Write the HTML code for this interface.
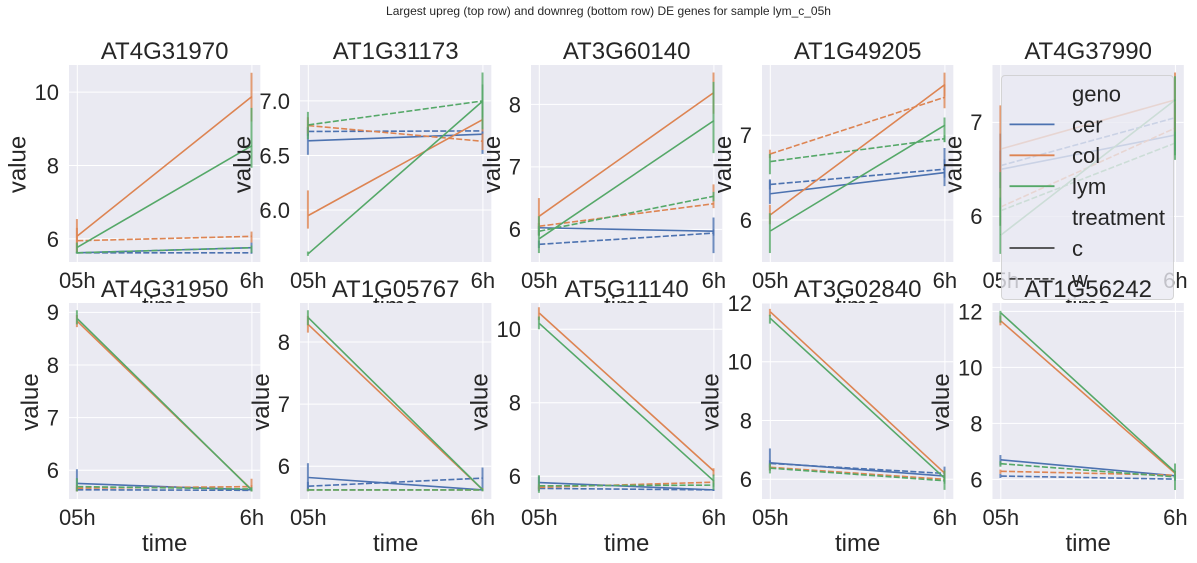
<!DOCTYPE html>
<html>
<head>
<meta charset="utf-8">
<title>Largest upreg and downreg DE genes</title>
<style>
html,body{margin:0;padding:0;background:#fff;width:1197px;height:563px;overflow:hidden}
svg{display:block;font-family:"Liberation Sans",Arial,sans-serif;fill:#262626}
</style>
</head>
<body>
<svg id="chart" width="1197" height="563" viewBox="0 0 1197 563" xmlns="http://www.w3.org/2000/svg">
<text x="608.5" y="15" text-anchor="middle" font-size="12">Largest upreg (top row) and downreg (bottom row) DE genes for sample lym_c_05h</text>
</svg>
<script>
const genes = ["AT4G31970","AT1G31173","AT3G60140","AT1G49205","AT4G37990","AT4G31950","AT1G05767","AT5G11140","AT3G02840","AT1G56242"];
const timeLabels = ["05h","6h"];
const yTicks = [
  [6,8,10],[6.0,6.5,7.0],[6,7,8],[6,7],[6,7],
  [6,7,8,9],[6,7,8],[6,8,10],[6,8,10,12],[6,8,10,12]
];
const yTickLabels = [
  ["6","8","10"],["6.0","6.5","7.0"],["6","7","8"],["6","7"],["6","7"],
  ["6","7","8","9"],["6","7","8"],["6","8","10"],["6","8","10","12"],["6","8","10","12"]
];
const yMin = [5.37,5.524,5.477,5.504,5.514,5.455,5.474,5.382,5.33,5.30];
const yMax = [10.74,7.329,8.63,7.83,7.61,9.177,8.627,10.716,12.0,12.3];

const cerC = [[5.62,5.76],[6.634,6.695],[6.025,5.97],[6.31,6.56],[6.5,6.865],[5.75,5.63],[5.82,5.62],[5.83,5.63],[6.56,6.11],[6.7,6.13]];
const cerW = [[5.62,5.62],[6.72,6.725],[5.76,5.94],[6.42,6.6],[6.54,7.05],[5.63,5.62],[5.68,5.81],[5.67,5.63],[6.54,6.2],[6.12,6.01]];
const colC = [[6.08,9.88],[5.95,6.83],[6.21,8.19],[6.06,7.6],[6.716,7.24],[8.83,5.63],[8.28,5.62],[10.44,6.14],[11.7,6.2],[11.66,6.21]];
const colW = [[5.95,6.07],[6.774,6.63],[6.05,6.41],[6.78,7.45],[6.1,6.94],[5.66,5.69],[5.62,5.62],[5.7,5.84],[6.41,6.0],[6.29,6.15]];
const lymC = [[5.77,8.54],[5.6,7.0],[5.85,7.74],[5.87,7.12],[5.8,7.24],[8.88,5.62],[8.39,5.62],[10.16,5.87],[11.48,6.03],[11.95,6.25]];
const lymW = [[5.62,5.76],[6.78,7.0],[5.97,6.53],[6.69,6.96],[6.06,6.78],[5.69,5.645],[5.62,5.62],[5.74,5.76],[6.38,5.95],[6.56,6.09]];

/* error bars: [low 05h, high 05h, low 6h, high 6h] */
const cerCErr = [[5.6,5.65,5.6,5.9],[6.506,6.76,6.515,6.87],[5.9,6.1,5.62,6.19],[6.19,6.47,6.4,6.72],[6.3,6.88,6.7,7.0],[5.6,6.02,5.6,5.66],[5.6,6.05,5.6,5.65],[5.65,6.0,5.6,5.66],[6.3,7.05,5.95,6.3],[6.5,6.87,6.05,6.2]];
const cerWErr = [[5.6,5.64,5.6,5.64],[6.68,6.76,6.69,6.76],[5.7,5.82,5.9,6.0],[6.36,6.48,6.5,6.85],[6.3,6.7,6.9,7.2],[5.6,5.68,5.6,5.64],[5.6,5.75,5.62,5.98],[5.6,5.72,5.6,5.66],[6.4,6.65,6.05,6.43],[6.05,6.2,5.95,6.08]];
const colCErr = [[5.62,6.54,9.2,10.53],[5.83,6.18,6.72,6.95],[5.9,6.5,7.85,8.51],[5.95,6.18,7.46,7.74],[6.3,7.18,7.0,7.53],[8.72,8.95,5.6,5.72],[8.15,8.42,5.6,5.65],[10.25,10.6,6.0,6.22],[11.55,11.8,6.1,6.3],[11.5,11.85,6.1,6.3]];
const colWErr = [[5.65,6.3,5.9,6.2],[6.7,6.85,6.55,6.7],[6.0,6.1,6.34,6.72],[6.73,6.83,7.32,7.6],[5.9,6.3,6.8,7.1],[5.6,5.72,5.6,5.84],[5.6,5.64,5.6,5.64],[5.62,5.78,5.75,5.9],[6.3,6.5,5.9,6.1],[6.2,6.35,6.05,6.25]];
const lymCErr = [[5.6,5.9,7.94,9.57],[5.58,5.62,6.74,7.26],[5.62,6.21,7.22,8.36],[5.61,6.08,6.92,7.21],[5.6,6.47,6.6,7.49],[8.77,9.04,5.6,5.64],[8.27,8.51,5.6,5.64],[10.0,10.35,5.63,6.05],[11.3,11.6,5.64,6.3],[11.6,12.02,5.62,6.57]];
const lymWErr = [[5.6,5.65,5.62,5.82],[6.65,6.9,6.85,7.15],[5.9,6.05,6.45,6.6],[6.54,6.78,6.92,7.0],[5.9,6.2,6.65,6.9],[5.6,5.85,5.6,5.68],[5.6,5.64,5.6,5.64],[5.55,6.03,5.7,5.82],[6.2,6.55,5.85,6.05],[6.45,6.65,6.0,6.18]];

const seriesNames = ["cer-c","cer-w","col-c","col-w","lym-c","lym-w"];
const seriesValues = [cerC,cerW,colC,colW,lymC,lymW];
const seriesErrors = [cerCErr,cerWErr,colCErr,colWErr,lymCErr,lymWErr];
const seriesColors = ["#4C72B0","#4C72B0","#DD8452","#DD8452","#55A868","#55A868"];
const seriesDashed = [false,true,false,true,false,true];
const legendLabels = ["geno","cer","col","lym","treatment","c","w"];
const legendColors = [null,"#4C72B0","#DD8452","#55A868",null,"#444444","#444444"];

const svg = document.getElementById('chart');
const NS = 'http://www.w3.org/2000/svg';
const colLefts = [69,300,531,762,992.5];
const rowTops = [65,303];
const axW = 191.3;
const axH = [197,196];

function make(tag, parent, attrs, txt){
  const el = document.createElementNS(NS, tag);
  for (const k in attrs) el.setAttribute(k, attrs[k]);
  if (txt !== undefined) el.textContent = txt;
  parent.appendChild(el);
  return el;
}
function labelWidth(s){
  let w = 0;
  for (const ch of s) w += ch === '.' ? 6.1 : 12.23;
  return w;
}

function drawLegend(parent){
  const g = make('g', parent, {});
  
  
  const box = make('rect', g, {x:1001.5,y:75.5,width:172,height:224,rx:3.5,fill:'#EAEAF2','fill-opacity':0.8,stroke:'#CCCCCC','stroke-opacity':0.8,'stroke-width':1});
  
  
  legendLabels.forEach(function(lab, i){
    const y = 93.5 + i * 30.9;
    const t = make('text', g, {x:1072,y:y+7.9,'font-size':22}, lab);
    
    
    if (legendColors[i]) {
      const attrs = {x1:1009.5,x2:1054.5,y1:y,y2:y,stroke:legendColors[i],'stroke-width':1.8};
      if (lab === 'w') attrs['stroke-dasharray'] = '6 2.25';
      const h = make('line', g, attrs);
      
      
    }
  });
}

genes.forEach(function(gene, p){
  const row = p < 5 ? 0 : 1;
  const left = colLefts[p % 5];
  const top = rowTops[row];
  const h = axH[row];
  const bottom = top + h;
  const xPos = [left + 8.3, left + axW - 8.4];
  const yScale = function(v){ return bottom - (v - yMin[p]) / (yMax[p] - yMin[p]) * h; };

  const panel = make('g', svg, {});
  
  

  const bg = make('rect', panel, {x:left,y:top,width:axW,height:h,fill:'#EAEAF2'});
  
  

  const clip = make('clipPath', panel, {id:'clip-' + p});
  make('rect', clip, {x:left,y:top,width:axW,height:h});

  const grid = make('g', panel, {'clip-path':'url(#clip-' + p + ')',stroke:'#FFFFFF','stroke-width':1});
  
  
  yTicks[p].forEach(function(tv){
    make('line', grid, {x1:left,x2:left+axW,y1:yScale(tv),y2:yScale(tv)});
  });
  xPos.forEach(function(x){
    make('line', grid, {x1:x,x2:x,y1:top,y2:bottom});
  });

  const marks = make('g', panel, {'clip-path':'url(#clip-' + p + ')'});
  
  
  seriesNames.forEach(function(name, s){
    const vals = seriesValues[s][p];
    const err = seriesErrors[s][p];
    const attrs = {x1:xPos[0],x2:xPos[1],y1:yScale(vals[0]),y2:yScale(vals[1]),stroke:seriesColors[s],'stroke-width':1.6};
    if (seriesDashed[s]) attrs['stroke-dasharray'] = '6 2.25';
    const line = make('line', marks, attrs);
    
    
    [0,1].forEach(function(t){
      const bar = make('line', marks, {x1:xPos[t]-0.4,x2:xPos[t]-0.4,y1:yScale(err[t*2]),y2:yScale(err[t*2+1]),stroke:seriesColors[s],'stroke-width':2,'stroke-opacity':0.8});
      
      
    });
  });

  yTicks[p].forEach(function(tv, i){
    const t = make('text', panel, {x:left-10,y:yScale(tv)+7.9,'text-anchor':'end','font-size':22}, yTickLabels[p][i]);
    
    
  });
  timeLabels.forEach(function(lab, i){
    const t = make('text', panel, {x:xPos[i],y:bottom+26,'text-anchor':'middle','font-size':22}, lab);
    
    
  });

  const xt = make('text', panel, {x:left+axW/2,y:bottom+52,'text-anchor':'middle','font-size':24}, 'time');
  
  

  const maxW = Math.max.apply(null, yTickLabels[p].map(labelWidth));
  const ylx = left - 27.5 - maxW + 8.5;
  const yly = top + h/2 + 1;
  const yt = make('text', panel, {x:ylx,y:yly,'text-anchor':'middle','font-size':24,transform:'rotate(-90 ' + ylx + ' ' + yly + ')'}, 'value');
  
  

  const title = make('text', panel, {x:left+axW/2,y:top-6,'text-anchor':'middle','font-size':24}, gene);
  
  

  if (p === 4) drawLegend(panel);
});
</script>
</body>
</html>
